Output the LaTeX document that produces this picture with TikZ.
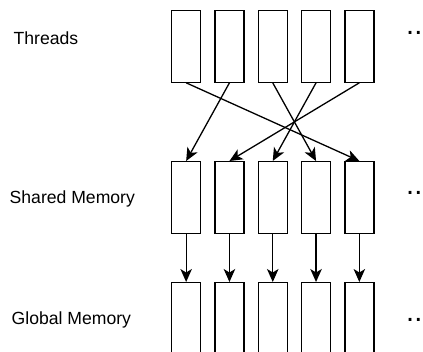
\documentclass[tikz,border=0pt]{standalone}
\usepackage{fontspec}
\setmainfont{Liberation Sans}
\usetikzlibrary{arrows.meta}
\begin{document}
\begin{tikzpicture}[x=1bp,y=-1bp,
  cell/.style={draw, line width=1.3bp, minimum width=29bp, minimum height=72bp,
    inner sep=0pt, anchor=north west},
  flow/.style={line width=1.3bp, -{Stealth[length=13bp,width=11.5bp,inset=3.5bp]}},
  rowlabel/.style={anchor=base west, inner sep=0pt, font=\fontsize{17.6bp}{20bp}\selectfont},
  more/.style={anchor=base west, inner sep=0pt, font=\fontsize{29bp}{32bp}\selectfont}]
  \useasboundingbox (0,0) rectangle (423,352);
  \clip (0,0) rectangle (423,352);

  % three rows of five cells
  \foreach \i/\x in {1/171,2/214.3,3/257.6,4/300.9,5/344.2} {
    \node[cell] (t\i) at (\x,9.5) {};
    \node[cell] (s\i) at (\x,161) {};
    \node[cell] (g\i) at (\x,282) {};
  }

  % row labels
  \node[rowlabel] (lt) at (13.5,44) {Threads};
  \node[rowlabel] (ls) at (9.5,203.5) {Shared Memory};
  \node[rowlabel] (lg) at (11.5,324) {Global Memory};

  % continuation marks
  \node[more] (mt) at (406,34) {..};
  \node[more] (ms) at (406,194) {..};
  \node[more] (mg) at (406,321.5) {..};

  % threads write to shared memory in permuted order
  \draw[flow] (t1.south) -- (s5.north);
  \draw[flow] (t2.south) -- (s1.north);
  \draw[flow] (t3.south) -- (s4.north);
  \draw[flow] (t4.south) -- (s3.north);
  \draw[flow] (t5.south) -- (s2.north);

  % shared memory copied straight to global memory
  \foreach \i in {1,...,5}
    \draw[flow] (s\i.south) -- (g\i.north);
\end{tikzpicture}
\end{document}
